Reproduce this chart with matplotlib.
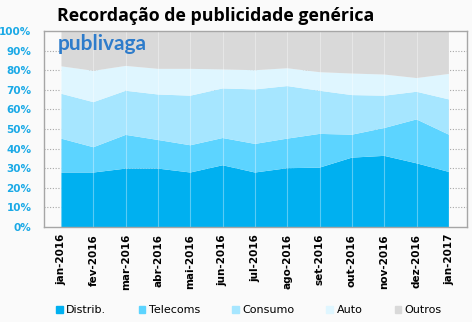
import matplotlib.pyplot as plt
import matplotlib.patches as mpatches
import numpy as np

# monthly share of generic advertising recall, stacked (%)
months = ['jan-2016', 'fev-2016', 'mar-2016', 'abr-2016', 'mai-2016', 'jun-2016',
          'jul-2016', 'ago-2016', 'set-2016', 'out-2016', 'nov-2016', 'dez-2016', 'jan-2017']
distrib = [27.8, 27.8, 29.8, 29.8, 27.8, 31.5, 27.8, 30.0, 30.3, 35.4, 36.3, 32.5, 28.1]
telecoms = [17.3, 12.9, 17.2, 14.6, 13.9, 13.9, 14.6, 15.1, 17.2, 11.7, 14.2, 22.4, 19.0]
consumo = [22.9, 23.0, 22.5, 23.2, 25.3, 25.3, 27.8, 26.8, 22.0, 20.2, 16.5, 14.1, 18.0]
auto = [14.0, 16.0, 12.7, 13.1, 13.7, 9.7, 9.8, 9.1, 9.5, 11.0, 10.8, 7.0, 13.0]
outros = [18.0, 20.3, 17.8, 19.3, 19.3, 19.6, 20.0, 19.0, 21.0, 21.7, 22.2, 24.0, 21.9]

names = ['Distrib.', 'Telecoms', 'Consumo', 'Auto', 'Outros']
colors = ['#00b0f0', '#5cd4ff', '#a6e6ff', '#dff6ff', '#d9d9d9']
bg = '#fafafa'

fig = plt.figure(figsize=(4.72, 3.22), dpi=100, facecolor=bg)
ax = fig.add_axes([44 / 472, 1 - 227 / 322, 423 / 472, 196 / 322])
ax.set_facecolor(bg)

x = np.arange(len(months))
ax.stackplot(x, distrib, telecoms, consumo, auto, outros, colors=colors,
             linewidth=0, zorder=2)

# dotted horizontal grid behind, faint vertical lines over the areas
for v in range(10, 100, 10):
    ax.axhline(v, color='#a8a8a8', linestyle=(0, (1, 1.5)), linewidth=0.8, zorder=1)
for xi in x:
    ax.axvline(xi, color='white', alpha=0.35, linewidth=0.8, zorder=3)

ax.set_xlim(-0.53, 12.56)
ax.set_ylim(0, 100)
ax.set_yticks(range(0, 101, 10))
ax.set_yticklabels([f'{v}%' for v in range(0, 101, 10)], color='#1aa9e6',
                   fontweight='bold', fontsize=7.5)
ax.set_xticks(x)
ax.set_xticklabels(months, rotation=90, fontweight='bold', fontsize=7.5)
ax.tick_params(length=0, pad=5)
ax.tick_params(axis='y', pad=9)
for s in ax.spines.values():
    s.set_color('#a6a6a6')
    s.set_linewidth(1)
    s.set_zorder(4)

fig.text(216 / 472, 1 - 16 / 322, 'Recordação de publicidade genérica', ha='center', va='center',
         fontsize=12.8, fontweight='bold', family='Open Sans')
ax.text(58 / 472, 1 - 44 / 322, 'publivaga', transform=fig.transFigure, ha='left',
        va='center', fontsize=15, fontweight='bold', color='#2e7ccb', family='Lato', zorder=5)

handles = [mpatches.Patch(color=c, label=n) for c, n in zip(colors, names)]
fig.legend(handles=handles, loc='center', bbox_to_anchor=(249 / 472, 1 - 310 / 322), ncol=5,
           frameon=False, fontsize=8, handlelength=0.6, handleheight=0.6,
           handletextpad=0.3, columnspacing=2.9)

fig.savefig('out.png', dpi=100, facecolor=bg)
